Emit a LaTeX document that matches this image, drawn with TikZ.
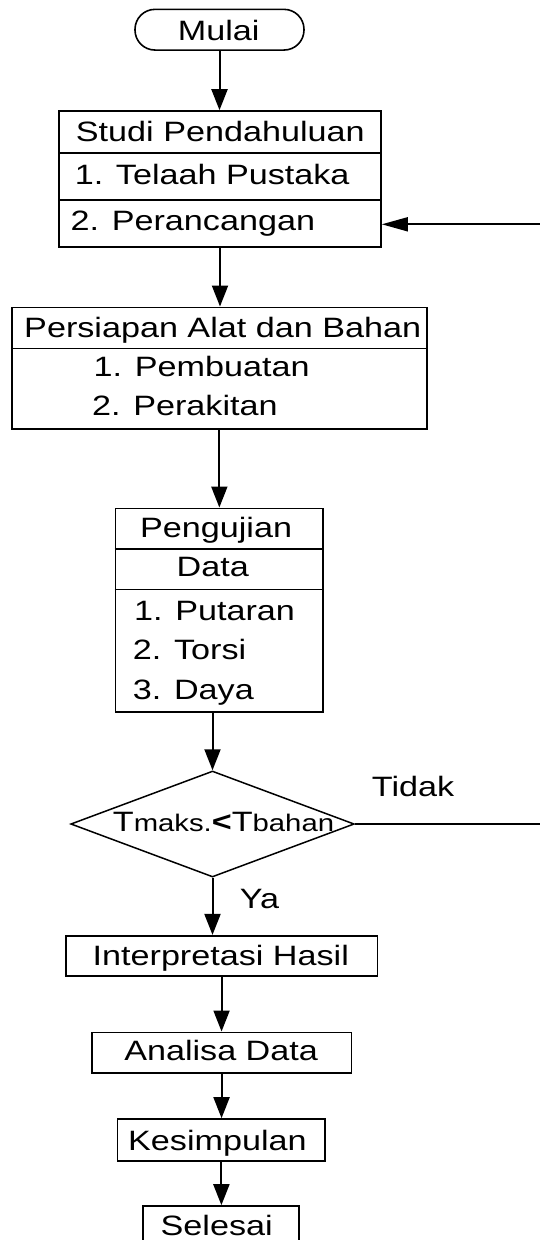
\documentclass[tikz,border=0pt]{standalone}
\usepackage{fontspec}
\setmainfont{Liberation Sans}[FakeStretch=1.22]
\usetikzlibrary{arrows.meta,shapes.geometric}
\begin{document}
\begin{tikzpicture}[x=1pt,y=-1pt,
  box/.style={draw, rectangle, inner sep=0pt, line width=1.6pt},
  txt/.style={inner sep=0pt, font=\fontsize{28}{30}\selectfont},
  smalltxt/.style={font=\fontsize{24}{26}\selectfont},
  arr/.style={-{Triangle[length=21pt,width=16pt]}, line width=2pt},
  harr/.style={-{Triangle[length=26pt,width=14pt]}, line width=1.7pt},
  dline/.style={line width=1.6pt}]
\useasboundingbox (0,0) rectangle (539,1240);

% Mulai
\node[box, rounded corners=20pt, minimum width=169pt, minimum height=40.7pt] (mulai) at (219.5,29.7) {};
\node[txt, anchor=base] (tmulai) at (218.7,40) {Mulai};

% Studi Pendahuluan
\node[box, minimum width=322pt, minimum height=135.7pt] (studi) at (220,178.85) {};
\draw[dline] (studi.west |- 0,152.7) -- (studi.east |- 0,152.7);
\draw[dline] (studi.west |- 0,200) -- (studi.east |- 0,200);
\node[txt, anchor=base] (tstudi) at (220.3,141.7) {Studi Pendahuluan};
\node[txt, anchor=base west] (ttelaah) at (74.6,184.3) {1. Telaah Pustaka};
\node[txt, anchor=base west] (tperanc) at (70.5,230) {2. Perancangan};

% Persiapan
\node[box, minimum width=415.3pt, minimum height=121.7pt] (persiapan) at (219.35,368.15) {};
\draw[dline] (persiapan.west |- 0,348.3) -- (persiapan.east |- 0,348.3);
\node[txt, anchor=base] (tpersiapan) at (222.7,337) {Persiapan Alat dan Bahan};
\node[txt, anchor=base west] (tpembuatan) at (93.5,376.7) {1. Pembuatan};
\node[txt, anchor=base west] (tperakitan) at (92,415) {2. Perakitan};

% Pengujian
\node[box, minimum width=207.5pt, minimum height=203.4pt] (pengujian) at (219.25,610) {};
\draw[dline] (pengujian.west |- 0,548.7) -- (pengujian.east |- 0,548.7);
\draw[dline] (pengujian.west |- 0,589.3) -- (pengujian.east |- 0,589.3);
\node[txt, anchor=base] (tpengujian) at (216.1,537.3) {Pengujian};
\node[txt, anchor=base] (tdata) at (212.7,576.7) {Data};
\node[txt, anchor=base west] (tputaran) at (134,620.7) {1. Putaran};
\node[txt, anchor=base west] (ttorsi) at (132.7,659) {2. Torsi};
\node[txt, anchor=base west] (tdaya) at (132.7,699) {3. Daya};

% Decision
\node[draw, diamond, inner sep=0pt, line width=1.5pt, minimum width=283.5pt, minimum height=106pt] (dec) at (212.5,824) {};
\node[txt, anchor=base west] (tdec) at (112.7,831.7) {T{\fontsize{24}{26}\selectfont maks.}{\bfseries <}T{\fontsize{24}{26}\selectfont bahan}};
\node[txt, anchor=base west] (ttidak) at (371.7,796.5) {Tidak};
\node[txt, anchor=base west] (tya) at (239.6,908.3) {Ya};

% Lower boxes
\node[box, minimum width=311.7pt, minimum height=40.3pt] (interp) at (221.55,955.85) {};
\node[txt, anchor=base] (tinterp) at (220.8,965.5) {Interpretasi Hasil};
\node[box, minimum width=259.5pt, minimum height=40.4pt] (analisa) at (221.55,1052.5) {};
\node[txt, anchor=base] (tanalisa) at (221.1,1060.7) {Analisa Data};
\node[box, minimum width=207.6pt, minimum height=41.7pt] (kesimpulan) at (221.4,1139.85) {};
\node[txt, anchor=base] (tkesimpulan) at (217.4,1150.7) {Kesimpulan};
\node[box, minimum width=156pt, minimum height=41pt] (selesai) at (221,1226.5) {};
\node[txt, anchor=base] (tselesai) at (216.7,1235) {Selesai};

% Connectors
\draw[arr] (mulai.south) -- (mulai.south |- studi.north);
\draw[arr] (studi.south) -- (studi.south |- persiapan.north);
\draw[arr] (persiapan.south) -- (persiapan.south |- pengujian.north);
\draw[arr] (pengujian.south -| dec.north) -- (dec.north);
\draw[arr] (dec.south) -- (dec.south |- interp.north);
\draw[arr] (interp.south) -- (interp.south |- analisa.north);
\draw[arr] (analisa.south) -- (analisa.south |- kesimpulan.north);
\draw[arr] (kesimpulan.south) -- (kesimpulan.south |- selesai.north);

% Feedback loop (vertical part lies just beyond the right edge)
\coordinate (fbin) at (studi.east |- 0,224.3);
\coordinate (fbcorner) at (548,824);
\draw[harr] (dec.east) -- (dec.east -| fbcorner) |- (fbin);
\end{tikzpicture}
\end{document}
